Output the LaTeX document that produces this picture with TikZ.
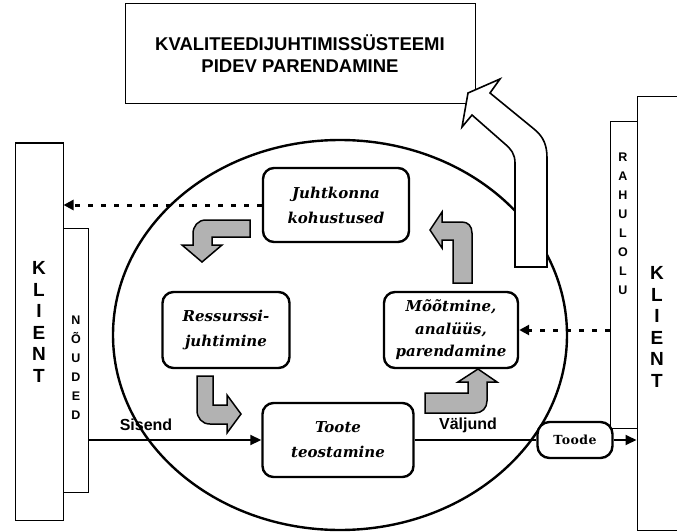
\documentclass[tikz,border=0pt]{standalone}
\usepackage{fontspec}
\setmainfont{Liberation Serif}
\newfontfamily\sansb{Liberation Sans}
\newfontfamily\boxf{DejaVu Serif}
\newfontfamily\toodef{DejaVu Serif}[LetterSpace=4]
\usetikzlibrary{arrows.meta,shapes.geometric}
\begin{document}
\begin{tikzpicture}[x=1pt,y=-1pt,
  rbox/.style={draw, line width=2.4pt, rounded corners=11pt, align=center, inner sep=0pt, fill=white,
    font=\boxf\bfseries\itshape\fontsize{15}{25}\selectfont},
  plainbox/.style={draw, line width=1pt, inner sep=0pt},
  grayarrow/.style={draw, line width=1.5pt, fill=gray!60, line join=miter},
  whitearrow/.style={draw, line width=1.6pt, fill=white, line join=miter},
  dotarrow/.style={line width=3pt, dash pattern=on 5pt off 8pt, -{Triangle[length=10pt,width=10pt]}},
  mainline/.style={line width=1.8pt},
  tipped/.style={-{Triangle[length=11pt,width=10pt]}},
  bigletters/.style={font=\sansb\bfseries\fontsize{19}{21.5}\selectfont, align=center, inner sep=0pt},
  smallletters/.style={font=\sansb\bfseries\fontsize{12.5}{19}\selectfont, align=center, inner sep=0pt},
  lbl/.style={font=\sansb\bfseries\fontsize{16}{18}\selectfont, inner sep=0pt},
]
\useasboundingbox (0,0) rectangle (677,532);

% ellipse
\node[draw, ellipse, line width=2.4pt, minimum width=454pt, minimum height=390pt, inner sep=0pt] (ell) at (340,335) {};

% top box
\node[plainbox, minimum width=350pt, minimum height=100pt, align=center,
  font=\sansb\bfseries\fontsize{18.5}{22}\selectfont] (top) at (300,54)
  {KVALITEEDIJUHTIMISSÜSTEEMI\\PIDEV PARENDAMINE};

% client boxes
\node[plainbox, minimum width=48pt, minimum height=377pt] (klL) at (39,331.5) {};
\node[plainbox, minimum width=25pt, minimum height=264pt] (nou) at (75.5,360) {};
\node[plainbox, minimum width=27pt, minimum height=306pt] (rah) at (623.5,275) {};
\node[plainbox, minimum width=45pt, minimum height=433pt] (klR) at (659.5,313.5) {};

\node[bigletters] (klLt) at (39,322) {K\\L\\I\\E\\N\\T};
\node[bigletters] (klRt) at (657,327) {K\\L\\I\\E\\N\\T};
\node[smallletters] (nout) at (76,368) {N\\Õ\\U\\D\\E\\D};
\node[smallletters] (raht) at (623,224) {R\\A\\H\\U\\L\\O\\L\\U};

% white arrow
\path[whitearrow] (515,267) -- (515,163) .. controls (515,154) and (511,149) .. (505,144)
  -- (472,115) -- (462,127) -- (468,93) -- (500,79) -- (490,93) -- (534,129)
  .. controls (544,137) and (547,146) .. (547,158) -- (547,267) -- cycle;

% rounded boxes
\node[rbox, minimum width=146pt, minimum height=74pt] (juht) at (336,205) {Juhtkonna\\kohustused};
\node[rbox, minimum width=127pt, minimum height=76pt] (ress) at (226,330) {Ressurssi-\\juhtimine};
\node[rbox, minimum width=134pt, minimum height=76pt, font=\boxf\bfseries\itshape\fontsize{15}{22.5}\selectfont] (moot) at (451,330) {Mõõtmine,\\analüüs,\\parendamine};
\node[rbox, minimum width=151pt, minimum height=74pt] (toote) at (338,440) {Toote\\teostamine};
\node[draw, fill=white, line width=2.4pt, rounded corners=12pt, minimum width=75pt, minimum height=36pt, inner sep=0pt,
  font=\toodef\bfseries\fontsize{12.5}{16}\selectfont] (toode) at (575,440) {Toode};

% gray cycle arrows
\path[grayarrow] (250,220) -- (206,220) .. controls (198,220) and (193,226) .. (193,234)
  -- (193,245) -- (182,245) -- (202,262) -- (222,245) -- (212,245) -- (212,237) -- (250,237) -- cycle;
\path[grayarrow] (197,376) -- (213,376) -- (213,405) -- (227,405) -- (227,395) -- (241,414)
  -- (227,433) -- (227,424) -- (210,424) .. controls (202,424) and (197,418) .. (197,410) -- cycle;
\path[grayarrow] (425,393) -- (468,393) -- (468,382) -- (458,382) -- (478,369) -- (497,382)
  -- (487,382) -- (487,401) .. controls (487,408) and (482,413) .. (475,413) -- (425,413) -- cycle;
\path[grayarrow] (453,283) -- (453,240) -- (442,240) -- (442,248) -- (430,230) -- (442,212)
  -- (442,222) -- (462,222) .. controls (468,222) and (472,226) .. (472,233) -- (472,283) -- cycle;

% dotted arrows
\draw[dotarrow] (juht.west) -- (juht.west -| klL.east);
\draw[dotarrow] (moot.east -| rah.west) -- (moot.east);

% main flow
\draw[mainline, tipped] (nou.east |- toote.west) -- (toote.west);
\draw[mainline] (toote.east) -- (toode.west);
\draw[mainline, tipped] (toode.east) -- (toode.east -| klR.west);
\node[lbl] (sis) at (146,425) {Sisend};
\node[lbl] (val) at (468,425) {Väljund};
\end{tikzpicture}
\end{document}
